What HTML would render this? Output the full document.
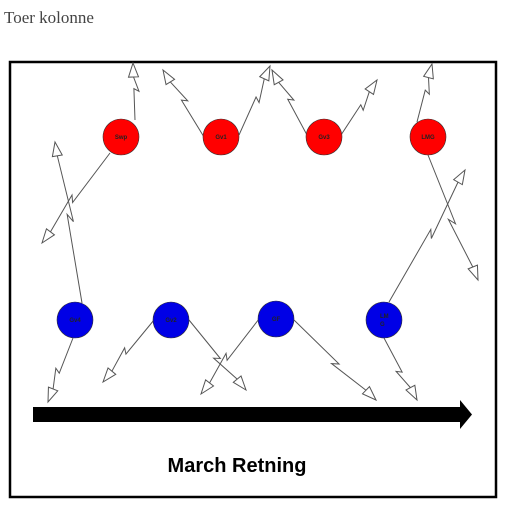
<!DOCTYPE html>
<html><head><meta charset="utf-8"><style>
html,body{margin:0;padding:0;background:#fff;width:512px;height:512px;overflow:hidden}
</style></head><body>
<svg width="512" height="512" xmlns="http://www.w3.org/2000/svg" id="svg">
<text x="4" y="23" font-family="Liberation Serif, serif" font-size="17" fill="#444">Toer kolonne</text>
<rect x="10" y="62" width="486" height="435" fill="#fff" stroke="#000" stroke-width="2.5"/>
<g id="arrows"></g>
<g id="players"></g>
<g>
<rect x="33" y="407" width="428" height="15" fill="#000"/>
<polygon points="460,400 472,414.5 460,429" fill="#000"/>
</g>
<text x="237" y="472" text-anchor="middle" font-family="Liberation Sans, sans-serif" font-weight="bold" font-size="20" fill="#000">March Retning</text>
</svg>
<script>
const playerNames=["Swp","Gv1","Gv3","LMG","Gv4","Gv2","GF","LM G"];
const playerX=[121,221,324,428,75,171,276,384];
const playerY=[137,137,137,137,320,320,319,320];
const playerColor=["#f00","#f00","#f00","#f00","#0000e6","#0000e6","#0000e6","#0000e6"];
const arrowFrom=[[135,120],[110,153],[204,137],[239,135],[307,135],[341,135],[417,122],[428,155],[82,303],[73,338],[154,320],[189,320],[259,319],[294,320],[389,302],[384,338]];
const arrowTo=[[133,63],[42,243],[163,70],[270,66],[272,70],[377,80],[432,64],[478,280],[55,142],[48,402],[103,382],[246,390],[201,394],[376,400],[465,170],[417,400]];
const NS="http://www.w3.org/2000/svg";
const ag=document.getElementById('arrows');
arrowFrom.forEach((f,i)=>{
  const t=arrowTo[i];
  const dx=t[0]-f[0],dy=t[1]-f[1],L=Math.hypot(dx,dy),ux=dx/L,uy=dy/L,px=-uy,py=ux;
  const a=[f[0]+dx*0.55,f[1]+dy*0.55];
  const b=[f[0]+dx*0.5+px*5,f[1]+dy*0.5+py*5];
  const hb=[t[0]-ux*14,t[1]-uy*14];
  const p=document.createElementNS(NS,'path');
  p.setAttribute('d',`M${f[0]},${f[1]}L${a[0]},${a[1]}L${b[0]},${b[1]}L${hb[0]},${hb[1]}`);
  p.setAttribute('fill','none');p.setAttribute('stroke','#555');p.setAttribute('stroke-width','1');
  
  
  ag.appendChild(p);
  const h=document.createElementNS(NS,'polygon');
  h.setAttribute('points',`${t[0]},${t[1]} ${hb[0]+px*5},${hb[1]+py*5} ${hb[0]-px*5},${hb[1]-py*5}`);
  h.setAttribute('fill','#fff');h.setAttribute('stroke','#555');h.setAttribute('stroke-width','1');
  
  
  ag.appendChild(h);
});
const pg=document.getElementById('players');
playerNames.forEach((n,i)=>{
  const c=document.createElementNS(NS,'circle');
  c.setAttribute('cx',playerX[i]);c.setAttribute('cy',playerY[i]);c.setAttribute('r',18);
  c.setAttribute('fill',playerColor[i]);c.setAttribute('stroke','#333');c.setAttribute('stroke-width','0.6');
  
  
  pg.appendChild(c);
  const parts=n.split(' ');
  parts.forEach((s,k)=>{
    const tx=document.createElementNS(NS,'text');
    tx.setAttribute('x',parts.length>1?playerX[i]-4:playerX[i]);
    tx.setAttribute('y',playerY[i]+2+(parts.length>1?(k*8-4):0));
    tx.setAttribute('text-anchor',parts.length>1?'start':'middle');
    tx.setAttribute('font-family','Liberation Sans, sans-serif');
    tx.setAttribute('font-size','6');tx.setAttribute('font-weight','bold');tx.setAttribute('fill','#222');
    tx.textContent=s;
    
    
    pg.appendChild(tx);
  });
});
</script>
</body></html>
